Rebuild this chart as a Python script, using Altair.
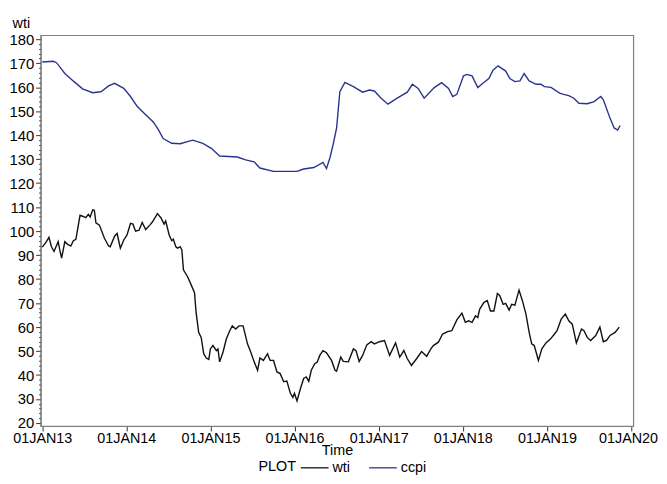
import altair as alt
import pandas as pd

# ---- data (time as decimal year) ----
wti_t = [2013.00, 2013.05, 2013.08, 2013.11, 2013.14, 2013.19, 2013.21, 2013.23, 2013.27, 2013.30,
         2013.34, 2013.37, 2013.40, 2013.45, 2013.48, 2013.52, 2013.55, 2013.57, 2013.60, 2013.62,
         2013.64, 2013.68, 2013.74, 2013.79, 2013.81, 2013.86, 2013.89, 2013.93, 2013.97,
         2014.01, 2014.05, 2014.08, 2014.11, 2014.15, 2014.19, 2014.23, 2014.28, 2014.31, 2014.37,
         2014.41, 2014.45, 2014.47, 2014.51, 2014.54, 2014.56, 2014.59, 2014.61, 2014.64, 2014.66,
         2014.68, 2014.73, 2014.77, 2014.81, 2014.83, 2014.86, 2014.89, 2014.92, 2014.95, 2014.98,
         2015.00, 2015.03, 2015.07, 2015.09, 2015.11, 2015.15, 2015.19, 2015.23, 2015.26, 2015.30,
         2015.34, 2015.39, 2015.44, 2015.48, 2015.52, 2015.56, 2015.59, 2015.63, 2015.68, 2015.71,
         2015.75, 2015.79, 2015.83, 2015.87, 2015.91, 2015.95, 2015.98,
         2016.00, 2016.03, 2016.07, 2016.11, 2016.14, 2016.17, 2016.20, 2016.24, 2016.27, 2016.30,
         2016.34, 2016.38, 2016.44, 2016.48, 2016.50, 2016.55, 2016.58, 2016.64, 2016.70, 2016.73,
         2016.77, 2016.81, 2016.86, 2016.91, 2016.95,
         2017.01, 2017.07, 2017.13, 2017.20, 2017.25, 2017.30, 2017.34, 2017.39, 2017.45, 2017.51,
         2017.57, 2017.62, 2017.65, 2017.71, 2017.76, 2017.82, 2017.87, 2017.93, 2017.99,
         2018.03, 2018.07, 2018.11, 2018.15, 2018.18, 2018.20, 2018.25, 2018.29, 2018.33, 2018.37,
         2018.41, 2018.44, 2018.48, 2018.51, 2018.55, 2018.58, 2018.62, 2018.67, 2018.71, 2018.75,
         2018.79, 2018.82, 2018.85, 2018.87, 2018.90, 2018.94, 2018.99,
         2019.04, 2019.09, 2019.12, 2019.17, 2019.22, 2019.26, 2019.30, 2019.35, 2019.41, 2019.44,
         2019.48, 2019.52, 2019.58, 2019.63, 2019.67, 2019.71, 2019.75, 2019.81, 2019.86]
wti_v = [93.3, 95.6, 97.4, 93.5, 91.5, 95.6, 92.2, 88.7, 95.6, 94.6,
         93.8, 96.0, 96.6, 106.6, 106.2, 105.6, 107.0, 105.9, 108.9, 108.7,
         103.4, 102.5, 97.0, 93.8, 93.5, 97.9, 99.0, 92.9, 96.3,
         98.4, 103.2, 102.9, 100.0, 100.4, 103.6, 100.7, 102.5, 103.8, 107.3,
         105.6, 102.9, 104.2, 98.4, 96.0, 96.6, 93.5, 92.9, 93.5, 92.2,
         83.9, 81.0, 77.7, 74.3, 66.0, 57.8, 55.7, 48.9, 47.1, 46.5,
         50.9, 52.3, 50.2, 50.9, 45.5, 49.6, 55.0, 58.5, 60.5, 59.2,
         60.5, 60.5, 53.0, 49.6, 45.5, 42.0, 47.1, 46.1, 48.9, 46.1,
         46.1, 41.3, 40.6, 37.2, 37.5, 32.4, 30.7,
         32.4, 29.2, 34.4, 38.6, 39.2, 37.4, 42.0, 44.7, 45.4, 48.2,
         50.2, 49.3, 46.1, 42.0, 41.6, 47.5, 45.7, 45.5, 50.9, 50.2,
         45.7, 48.2, 52.6, 53.9, 53.0,
         53.9, 54.4, 48.2, 53.4, 47.5, 50.2, 46.8, 44.0, 46.8, 49.8,
         47.8, 50.9, 52.3, 53.7, 57.1, 58.1, 58.5, 63.0, 65.8,
         62.0, 62.6, 62.0, 64.7, 64.0, 67.4, 70.2, 71.1, 66.7, 66.7,
         74.0, 73.2, 69.5, 69.9, 67.1, 69.5, 69.1, 75.4, 70.9, 65.4,
         57.8, 53.0, 52.3, 49.6, 46.1, 50.9, 53.4,
         55.0, 57.1, 58.5, 63.3, 65.4, 62.6, 61.2, 53.4, 59.2, 58.5,
         55.7, 54.4, 56.5, 60.0, 53.9, 54.4, 56.5, 57.8, 60.0]

ccpi_t = [2013.00, 2013.13, 2013.17, 2013.27, 2013.38, 2013.48, 2013.60, 2013.70, 2013.79, 2013.86,
          2013.97, 2014.05, 2014.13, 2014.23, 2014.32, 2014.38, 2014.44, 2014.54, 2014.64, 2014.79,
          2014.91, 2015.01, 2015.11, 2015.32, 2015.42, 2015.52, 2015.59, 2015.75, 2016.03, 2016.11,
          2016.23, 2016.34, 2016.38, 2016.42, 2016.46, 2016.50, 2016.54, 2016.60, 2016.70, 2016.81,
          2016.89, 2016.95, 2017.03, 2017.11, 2017.22, 2017.34, 2017.40, 2017.47, 2017.54, 2017.66,
          2017.75, 2017.83, 2017.88, 2017.93, 2018.01, 2018.05, 2018.11, 2018.18, 2018.24, 2018.31,
          2018.36, 2018.42, 2018.51, 2018.56, 2018.62, 2018.68, 2018.73, 2018.79, 2018.87, 2018.93,
          2018.97, 2019.05, 2019.15, 2019.20, 2019.26, 2019.32, 2019.38, 2019.48, 2019.56, 2019.64,
          2019.67, 2019.75, 2019.80, 2019.84, 2019.87]
ccpi_v = [170.5, 170.8, 170.2, 165.7, 162.3, 159.3, 157.7, 158.1, 160.5, 161.6,
          159.5, 156.1, 152.0, 148.5, 145.5, 142.3, 138.6, 136.6, 136.4, 137.9,
          136.6, 134.5, 131.3, 130.9, 129.7, 128.9, 126.3, 124.9, 124.9, 125.9,
          126.5, 128.6, 126.1, 130.6, 136.2, 143.0, 158.1, 162.0, 160.2, 157.9,
          158.8, 158.4, 155.4, 152.9, 155.4, 157.9, 161.2, 159.5, 155.4, 159.8,
          161.9, 159.5, 156.1, 157.0, 164.7, 165.3, 164.7, 159.8, 161.6, 163.6,
          167.1, 168.9, 166.7, 163.6, 162.3, 162.6, 165.7, 162.6, 161.2, 161.2,
          160.2, 159.9, 157.5, 157.0, 156.5, 155.4, 153.3, 153.1, 154.0, 156.1,
          154.7, 147.1, 143.0, 142.1, 144.0]

series_names = ["wti", "ccpi"]
series_colors = ["#111111", "#2a3490"]
year_ticks = [2013, 2014, 2015, 2016, 2017, 2018, 2019, 2020]
y_minor = list(range(20, 181, 2))


def to_dates(ts):
    base = pd.Timestamp("2013-01-01")
    return [(base + pd.Timedelta(days=(t - 2013.0) * 365.25)).normalize() for t in ts]


df = pd.concat([
    pd.DataFrame({"Time": to_dates(wti_t), "value": wti_v, "series": "wti"}),
    pd.DataFrame({"Time": to_dates(ccpi_t), "value": ccpi_v, "series": "ccpi"}),
], ignore_index=True)

FONT = "Liberation Sans"
FS = 14.5

x_enc = alt.X(
    "Time:T",
    scale=alt.Scale(domain=[alt.DateTime(year=2012, month=12, date=25),
                            alt.DateTime(year=2020, month=1, date=11)]),
    axis=alt.Axis(
        values=[alt.DateTime(year=y, month=1, date=1) for y in year_ticks],
        labelExpr="upper(timeFormat(datum.value, '%d%b%y'))",
        labelOffset={"condition": {"test": "year(datum.value) === 2020", "value": -3}, "value": 0},
        title="Time",
        titlePadding=-2,
        tickSize=5,
        labelPadding=1,
        grid=False,
        labelOverlap=False,
        labelFlush=False,
    ),
)

y_enc = alt.Y(
    "value:Q",
    scale=alt.Scale(domain=[18.76, 181.65], nice=False, zero=False),
    axis=alt.Axis(
        values=y_minor,
        labelExpr="datum.value % 10 === 0 ? datum.label : ''",
        tickSize={"condition": {"test": "datum.value % 10 === 0", "value": 5}, "value": 2},
        labelFontSize=15,
        title="wti",
        titleAngle=0,
        titleX=-20,
        titleY=-8,
        titleAlign="center",
        titleBaseline="alphabetic",
        labelPadding=2,
        grid=False,
        labelOverlap=False,
        labelFlush=False,
    ),
)

lines = alt.Chart(df).mark_line(strokeWidth=1.4).encode(
    x=x_enc,
    y=y_enc,
    color=alt.Color(
        "series:N",
        scale=alt.Scale(domain=series_names, range=series_colors),
        sort=series_names,
        legend=alt.Legend(
            title=None,
            orient="none",
            legendX=262,
            legendY=422,
            direction="horizontal",
            symbolType="stroke",
            symbolSize=784,
            symbolStrokeWidth=1.3,
            labelFont=FONT,
            labelFontSize=FS,
            labelColor="black",
            labelOffset=3,
            columnPadding=16,
            padding=0,
        ),
    ),
    detail="series:N",
)

plot_label = alt.Chart(pd.DataFrame({"label": ["PLOT"]})).mark_text(
    align="right", baseline="middle", font=FONT, fontSize=FS, color="black"
).encode(text="label:N", x=alt.value(258), y=alt.value(436))

chart = alt.layer(lines, plot_label).properties(
    width=599,
    height=395,
    padding={"left": 33, "top": 25, "right": 26, "bottom": 48},
    autosize=alt.AutoSizeParams(type="none"),
).configure_view(
    stroke="#808080", strokeWidth=1.2
).configure_axis(
    labelFont=FONT, labelFontSize=FS, labelColor="black",
    titleFont=FONT, titleFontSize=FS, titleColor="black", titleFontWeight="normal",
    domainColor="#808080", tickColor="#333333", domainWidth=1.2,
)

chart.save("out.html", embed_options={"renderer": "svg", "actions": False})
